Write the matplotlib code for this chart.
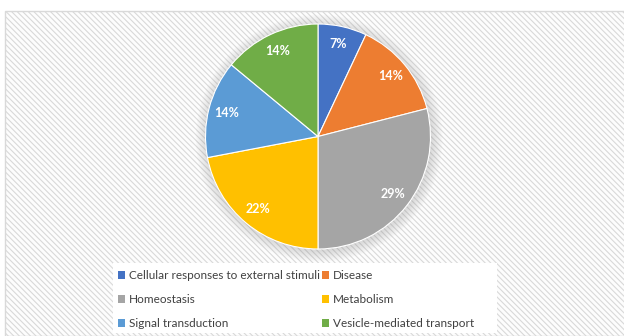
import numpy as np
import matplotlib.pyplot as plt
from matplotlib.patches import Rectangle, Circle, Patch

categories = ["Cellular responses to external stimuli", "Disease", "Homeostasis",
              "Metabolism", "Signal transduction", "Vesicle-mediated transport"]
shares = [7, 14, 29, 22, 14, 14]
colors = ["#4472C4", "#ED7D31", "#A5A5A5", "#FFC000", "#5B9BD5", "#70AD47"]


def main():
    plt.rcParams['font.family'] = ['Lato', 'DejaVu Sans']
    W, H = 624, 336
    fig = plt.figure(figsize=(W / 100, H / 100), dpi=100)
    fig.patch.set_facecolor('white')

    # chart area with faint diagonal hatching
    plt.rcParams['hatch.color'] = '#f2f2f2'
    plt.rcParams['hatch.linewidth'] = 0.8
    bg = Rectangle((5 / W, 0), 1.0, 1 - 11 / H, transform=fig.transFigure,
                   facecolor='#fdfdfd', edgecolor='#d9d9d9', hatch='\\\\\\\\\\\\',
                   linewidth=1.0, zorder=-5)
    fig.patches.append(bg)

    # white legend box
    lb = Rectangle((113 / W, 3 / H), 384 / W, 70 / H, transform=fig.transFigure,
                   facecolor='white', edgecolor='none', zorder=-4)
    fig.patches.append(lb)

    # pie axes
    r = 112.5
    cx, cy = 318, H - 136.5
    ax = fig.add_axes([(cx - r) / W, (cy - r) / H, 2 * r / W, 2 * r / H])
    ax.set_zorder(2)
    ax.patch.set_visible(False)

    # soft shadow
    for i in range(8):
        ax.add_patch(Circle((0.01, -0.015), 1.0 + 0.012 * (i + 1), facecolor='#888888',
                            edgecolor='none', alpha=0.035, zorder=0, clip_on=False))

    wedges, texts, autotexts = ax.pie(
        shares, colors=colors, startangle=90, counterclock=False, radius=1.0,
        autopct=lambda p: '%d%%' % round(p), pctdistance=0.84,
        wedgeprops=dict(edgecolor='white', linewidth=0.8),
        textprops=dict(color='white', fontsize=9, fontweight='bold'))
    for w in wedges:
        w.set_zorder(2)
    ax.set_xlim(-1, 1)
    ax.set_ylim(-1, 1)
    ax.axis('off')

    # legend (row-wise order -> column-first for matplotlib)
    order = [0, 2, 4, 1, 3, 5]
    handles = [Patch(facecolor=colors[i], edgecolor='none') for i in order]
    labels = [categories[i] for i in order]
    leg = fig.legend(handles, labels, ncol=2, loc='upper left',
                     bbox_to_anchor=(118 / W, 1 - 270 / H),
                     fontsize=8.5, frameon=False,
                     handlelength=0.6, handleheight=0.6, handletextpad=0.35,
                     columnspacing=0.15, labelspacing=1.1, borderpad=0.0,
                     borderaxespad=0)
    leg.set_zorder(3)
    for t in leg.get_texts():
        t.set_color('#404040')

    plt.savefig('out.png', dpi=100)


if __name__ == '__main__':
    main()
